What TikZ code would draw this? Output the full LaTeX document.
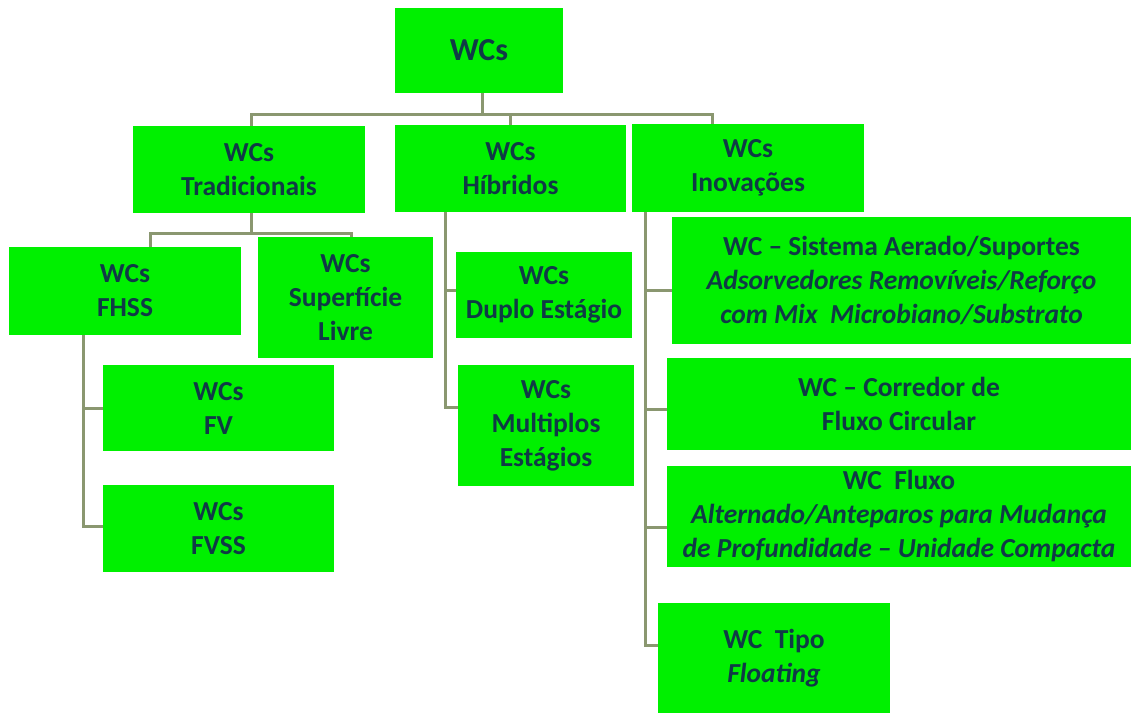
\documentclass[tikz,border=0pt]{standalone}
\usepackage{fontspec}
\setmainfont{Carlito}
\usetikzlibrary{positioning}
\definecolor{verde}{HTML}{00F000}
\definecolor{tinta}{HTML}{103A46}
\definecolor{linha}{HTML}{8A9770}

\begin{document}
\begin{tikzpicture}[x=1pt, y=-1pt,
    caixa/.style={fill=verde, text=tinta, align=center, inner sep=2pt,
      font=\fontsize{27.5}{34}\selectfont\bfseries},
    ligacao/.style={draw=linha, line width=3pt}]
  \useasboundingbox (0,0) rectangle (1131,713);
  % top and first level
  \node[caixa, minimum width=168, minimum height=85,
        font=\fontsize{32}{36}\selectfont\bfseries] (raiz) at (479,50.5) {WCs};
  \node[caixa, minimum width=232, minimum height=87] (trad) at (249,169.5) {WCs\\Tradicionais};
  \node[caixa, minimum width=231, minimum height=87] (hib) at (510.5,168.5) {WCs\\Híbridos};
  \node[caixa, minimum width=232, minimum height=88] (inov) at (748,168) {WCs\\Inovações};
  % tradicionais
  \node[caixa, minimum width=232, minimum height=88] (fhss) at (125,291) {WCs\\FHSS};
  \node[caixa, minimum width=175, minimum height=121] (sup) at (345.5,297.5) {WCs\\Superfície\\Livre};
  \node[caixa, minimum width=231, minimum height=86] (fv) at (218.5,408) {WCs\\FV};
  \node[caixa, minimum width=231, minimum height=87] (fvss) at (218.5,528.5) {WCs\\FVSS};
  % hibridos
  \node[caixa, minimum width=176, minimum height=86] (duplo) at (544,295) {WCs\\Duplo Estágio};
  \node[caixa, minimum width=176, minimum height=121] (multi) at (546,425.5) {WCs\\Multiplos\\Estágios};
  % inovacoes
  \node[caixa, minimum width=459, minimum height=127] (aer) at (901.5,280.5)
       {WC – Sistema Aerado/Suportes\\\textit{Adsorvedores Removíveis/Reforço}\\\textit{com Mix\ \ Microbiano/Substrato}};
  \node[caixa, minimum width=464, minimum height=92] (corr) at (899,404) {WC – Corredor de\\Fluxo Circular};
  \node[caixa, minimum width=464, minimum height=101] (flux) at (899,516.5)
       {WC\ \ Fluxo\\\textit{Alternado/Anteparos para Mudança}\\\textit{de Profundidade – Unidade Compacta}};
  \node[caixa, minimum width=232, minimum height=110] (float) at (774,658) {WC\ \ Tipo\\\textit{Floating}};

  % connectors
  \coordinate (barra) at (0,114);
  \coordinate (iTopo) at ([xshift=-36]inov.north);
  \coordinate (tTopo) at ([xshift=2]trad.north);
  \draw[ligacao] ([xshift=3]raiz.south) -- ([xshift=3]raiz.south |- barra);
  \draw[ligacao] (tTopo) -- (tTopo |- barra) -- (iTopo |- barra) -- (iTopo);
  \draw[ligacao] (hib.north) -- (hib.north |- barra);

  \coordinate (barraT) at (0,233);
  \coordinate (tBase) at ([xshift=2]trad.south);
  \coordinate (fTopo) at ([xshift=25]fhss.north);
  \coordinate (sTopo) at ([xshift=5.5]sup.north);
  \draw[ligacao] (tBase) -- (tBase |- barraT);
  \draw[ligacao] (fTopo) -- (fTopo |- barraT) -- (sTopo |- barraT) -- (sTopo);

  \coordinate (fBase) at ([xshift=-42]fhss.south);
  \draw[ligacao] (fBase) |- (fv.west);
  \draw[ligacao] (fBase) |- ([yshift=2.5]fvss.west);

  \coordinate (hBase) at ([xshift=-65.5]hib.south);
  \draw[ligacao] (hBase) |- ([yshift=5]duplo.west);
  \draw[ligacao] (hBase) |- ([yshift=18.5]multi.west);

  \coordinate (iBase) at ([xshift=-103]inov.south);
  \draw[ligacao] (iBase) |- ([yshift=-9.5]aer.west);
  \draw[ligacao] (iBase) |- ([yshift=-5]corr.west);
  \draw[ligacao] (iBase) |- ([yshift=-10.5]flux.west);
  \draw[ligacao] (iBase) |- ([yshift=13]float.west);
\end{tikzpicture}
\end{document}
